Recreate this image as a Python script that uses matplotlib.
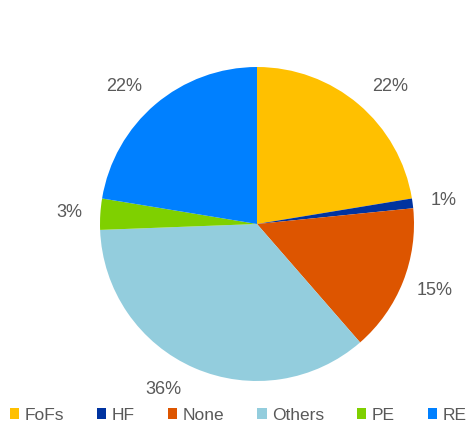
import numpy as np
import matplotlib.pyplot as plt
from matplotlib.patches import Patch

plt.rcParams['font.family'] = ['Liberation Sans', 'DejaVu Sans']

categories = ['FoFs', 'HF', 'None', 'Others', 'PE', 'RE']
shares = [22.4, 1.0, 15.2, 35.8, 3.2, 22.4]
colors = ['#FFC000', '#0033A0', '#DD5500', '#93CDDD', '#7FD000', '#0080FF']

fig = plt.figure(figsize=(4.70, 4.23), dpi=100)

# pie area: square box of 314 px centred at (257, 224) px from top-left
ax = fig.add_axes([100 / 470, 42 / 423, 314 / 470, 314 / 423])
wedges, texts, autotexts = ax.pie(
    shares, colors=colors, startangle=90, counterclock=False,
    autopct='%.0f%%',
    textprops={'color': '#595959', 'fontsize': 13},
)
ax.set_xlim(-1, 1)
ax.set_ylim(-1, 1)
ax.set_aspect('equal')

# put percentage labels just outside the rim, pushed sideways
for w, t in zip(wedges, autotexts):
    ang = np.deg2rad((w.theta1 + w.theta2) / 2)
    x, y = np.cos(ang), np.sin(ang)
    t.set_position((x + 0.2 * np.sign(x), y + 0.15 * y))
    t.set_ha('center')
    t.set_va('center')

handles = [Patch(facecolor=c, edgecolor='none') for c in colors]
fig.legend(handles, categories, loc='center', ncol=6, frameon=False,
           bbox_to_anchor=(238 / 470, 1 - 415 / 423), fontsize=12.5,
           labelcolor='#595959', borderpad=0, borderaxespad=0,
           handlelength=0.55, handleheight=0.55, handletextpad=0.3,
           columnspacing=1.9)

fig.savefig('out.png', dpi=100)
